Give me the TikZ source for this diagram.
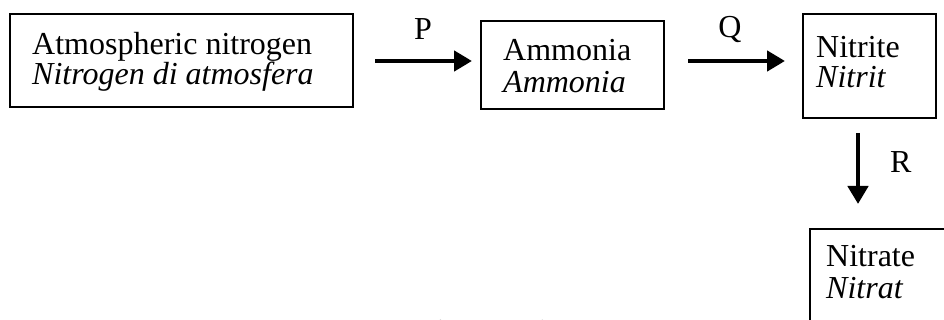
\documentclass[tikz,border=0pt]{standalone}
\usepackage{fontspec}
\setmainfont{Liberation Serif}
\usetikzlibrary{arrows.meta}
\begin{document}
\begin{tikzpicture}[x=1pt,y=-1pt,
  boxnode/.style={draw, line width=1.6pt, inner sep=0pt, anchor=north west},
  txt/.style={anchor=base west, inner sep=0pt, font=\fontsize{32}{30}\selectfont},
  lbl/.style={anchor=base, inner sep=0pt, font=\fontsize{32}{30}\selectfont},
  flow/.style={line width=4.6pt, -{Triangle[length=18pt,width=20pt]}}]
\useasboundingbox (0,0) rectangle (944,320);
\clip (0,0) rectangle (944,320);
% boxes
\node[boxnode, minimum width=343pt, minimum height=93pt] (b1) at (9,13) {};
\node[boxnode, minimum width=183pt, minimum height=88pt] (b2) at (480,20) {};
\node[boxnode, minimum width=133pt, minimum height=104pt] (b3) at (802,13) {};
\node[boxnode, minimum width=200pt, minimum height=150pt] (b4) at (809,228) {};
% texts
\node[txt] (t1a) at (32,55) {Atmospheric nitrogen};
\node[txt] (t1b) at (32,85) {\itshape Nitrogen di atmosfera};
\node[txt] (t2a) at (503,61) {Ammonia};
\node[txt] (t2b) at (503,93) {\itshape Ammonia};
\node[txt] (t3a) at (816,58) {Nitrite};
\node[txt] (t3b) at (816,88) {\itshape Nitrit};
\node[txt] (t4a) at (826,266) {Nitrate};
\node[txt] (t4b) at (826,298) {\itshape Nitrat};
% connectors
\coordinate (pA) at (375,61);
\coordinate (pB) at (472,61);
\coordinate (qA) at (688,61);
\coordinate (qB) at (785,61);
\coordinate (rA) at (858,133);
\coordinate (rB) at (858,204);
\draw[flow] (pA) -- (pB);
\draw[flow] (qA) -- (qB);
\draw[flow] (rA) -- (rB);
\node[lbl] (lP) at (423,40) {P};
\node[lbl] (lQ) at (730,38) {Q};
\node[txt] (lR) at (890,173) {R};
% caption, cut off by the lower edge as in the reference
\node[txt] (cap) at (413,341) {Diagram 15};
\end{tikzpicture}
\end{document}
